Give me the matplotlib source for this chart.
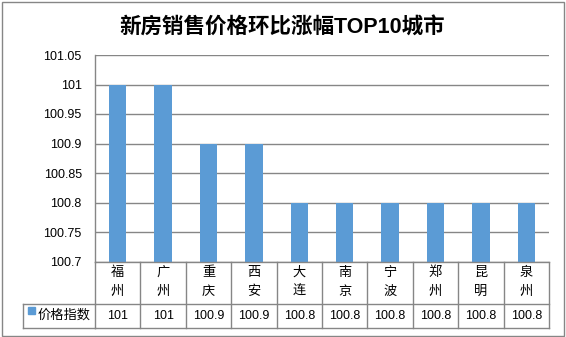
import matplotlib.pyplot as plt
import matplotlib.transforms as mtransforms
from matplotlib.patches import Rectangle

plt.rcParams['font.family'] = ['Liberation Sans', 'Noto Sans CJK SC', 'DejaVu Sans']

cities = ['福州', '广州', '重庆', '西安', '大连', '南京', '宁波', '郑州', '昆明', '泉州']
price_index = [101, 101, 100.9, 100.9, 100.8, 100.8, 100.8, 100.8, 100.8, 100.8]
value_labels = ['101', '101', '100.9', '100.9', '100.8', '100.8', '100.8', '100.8', '100.8', '100.8']
series_name = '价格指数'
yticks = [100.7, 100.75, 100.8, 100.85, 100.9, 100.95, 101, 101.05]
ytick_labels = ['100.7', '100.75', '100.8', '100.85', '100.9', '100.95', '101', '101.05']

W, H = 566, 337
bar_color = '#5b9bd5'
line_color = '#868686'

fig = plt.figure(figsize=(W / 100, H / 100), dpi=100)

def fx(px):
    return px / W

def fy(py):
    return 1 - py / H

# plot area in pixel terms
left, right, top, bottom = 95, 549, 55, 261.5
ax = fig.add_axes([fx(left), fy(bottom), fx(right - left), (bottom - top) / H])

x = list(range(len(cities)))
ax.bar(x, price_index, width=0.38, color=bar_color, zorder=3)
ax.set_xlim(-0.5, len(cities) - 0.5)
ax.set_ylim(100.7, 101.05)
ax.set_yticks(yticks)
ax.set_yticklabels(ytick_labels, fontsize=9)
ax.set_xticks([])
ax.tick_params(axis='y', length=0, pad=9.5)
ax.grid(axis='y', color=line_color, linewidth=1, zorder=0)
for s in ['right', 'top', 'bottom']:
    ax.spines[s].set_visible(False)
ax.spines['left'].set_color(line_color)
ax.spines['left'].set_linewidth(1)

# outer border
fig.add_artist(Rectangle((fx(1.5), fy(335.5)), fx(562), (334) / H, transform=fig.transFigure,
                         fill=False, edgecolor=line_color, linewidth=1))

fig.text(fx(282), fy(28), '新房销售价格环比涨幅TOP10城市', ha='center', va='center',
         fontsize=15.5, fontweight='bold', family=['Liberation Sans', 'Noto Sans CJK SC'])

# data table under the chart
trans = mtransforms.blended_transform_factory(ax.transData, fig.transFigure)
row1_top, row1_bot, row2_bot = bottom, 304, 328
lw = 1

def hline(x0, x1, py, tr=trans):
    fig.add_artist(plt.Line2D([x0, x1], [fy(py), fy(py)], transform=tr, color=line_color, linewidth=lw))

def vline(xx, py0, py1, tr=trans):
    fig.add_artist(plt.Line2D([xx, xx], [fy(py0), fy(py1)], transform=tr, color=line_color, linewidth=lw))

n = len(cities)
hline(-0.5, n - 0.5, row1_top)
hline(-0.5, n - 0.5, row1_bot)
hline(-0.5, n - 0.5, row2_bot)
for i in range(n + 1):
    vline(i - 0.5, row1_top, row2_bot)

# legend-key cell on the left of the value row
tf = fig.transFigure
fig.add_artist(plt.Line2D([fx(23), fx(left)], [fy(row1_bot), fy(row1_bot)], transform=tf, color=line_color, linewidth=lw))
fig.add_artist(plt.Line2D([fx(23), fx(left)], [fy(row2_bot), fy(row2_bot)], transform=tf, color=line_color, linewidth=lw))
fig.add_artist(plt.Line2D([fx(23), fx(23)], [fy(row1_bot), fy(row2_bot)], transform=tf, color=line_color, linewidth=lw))
fig.add_artist(Rectangle((fx(28), fy(314)), fx(7), 7 / H, transform=tf, color=bar_color))
fig.text(fx(38), fy(315.5), series_name, ha='left', va='center', fontsize=9.5)

for i, (c, v) in enumerate(zip(cities, value_labels)):
    fig.text(i, fy(273), c[0], transform=trans, ha='center', va='center', fontsize=9.5)
    fig.text(i, fy(292), c[1], transform=trans, ha='center', va='center', fontsize=9.5)
    fig.text(i, fy(316), v, transform=trans, ha='center', va='center', fontsize=9)

fig.savefig('out.png', dpi=100)
